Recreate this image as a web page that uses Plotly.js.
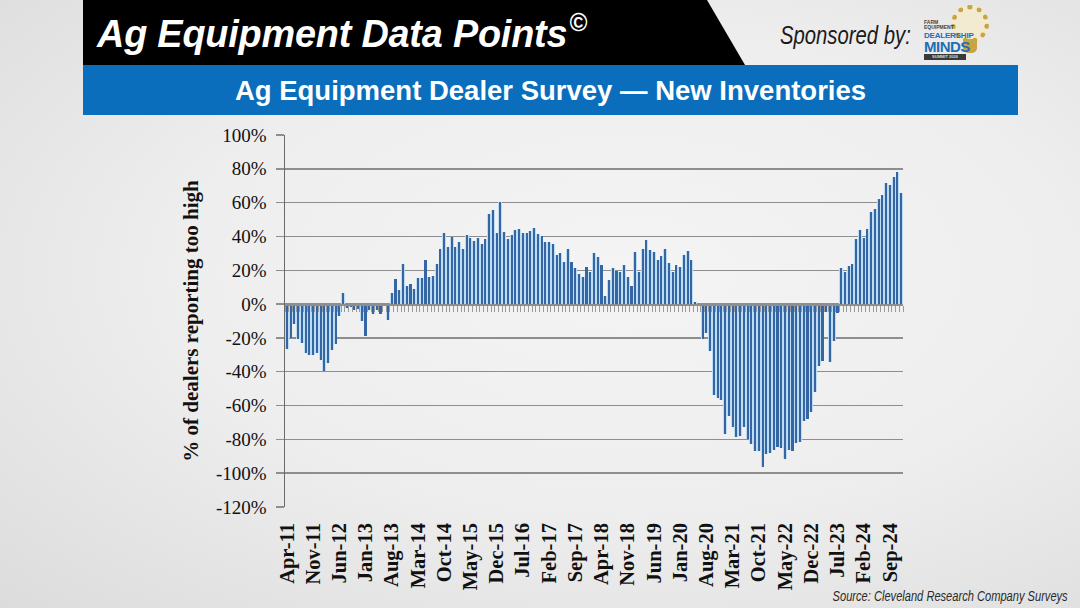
<!DOCTYPE html>
<html>
<head>
<meta charset="utf-8">
<script src="https://cdn.plot.ly/plotly-3.0.1.min.js"></script>
<style>
  html, body { margin: 0; padding: 0; }
  body {
    width: 1080px; height: 608px; overflow: hidden; position: relative;
    background: radial-gradient(ellipse at 58% 45%, #f4f4f4 0%, #eeeeee 50%, #dcdcdc 100%);
    font-family: "Liberation Sans", Arial, sans-serif;
  }
  #chart { position: absolute; left: 0; top: 0; width: 1080px; height: 608px; }
  .hdr-black {
    position: absolute; left: 83px; top: 0; width: 662px; height: 65px; background: #000;
    clip-path: polygon(0 0, 624px 0, 662px 65px, 0 65px);
  }
  .hdr-title {
    position: absolute; left: 97px; top: 10px; color: #fff; font-weight: bold; font-style: italic;
    font-size: 39px; white-space: nowrap; letter-spacing: -0.2px;
    transform: scaleX(0.97); transform-origin: left top;
  }
  .hdr-title sup { font-size: 25px; position: relative; top: -2px; margin-left: 2px; }
  .band {
    position: absolute; left: 83px; top: 65px; width: 935px; height: 50px; background: #0a6ebd;
    color: #fff; font-weight: bold; font-size: 27.5px; text-align: center; line-height: 51px; white-space: nowrap;
  }
  .sponsor {
    position: absolute; left: 780px; top: 20px; font-style: italic; font-size: 26px; color: #1a1a1a;
    transform: scaleX(0.78); transform-origin: left top; white-space: nowrap;
  }
  .logo { position: absolute; left: 921px; top: 3px; width: 72px; height: 58px; }
  .logo .gear {
    position: absolute; left: 30px; top: 2px; width: 38px; height: 38px; border-radius: 50%;
    border: 5px dotted #c9a445; box-sizing: border-box; background: #f3ead2;
  }
  .logo .bulb {
    position: absolute; left: 42px; top: 36px; width: 14px; height: 14px; border-radius: 0 0 5px 5px; background: #c9a445;
  }
  .logo .small { position: absolute; left: 3px; top: 17px; font-size: 5px; color: #444; font-weight: bold; line-height: 5px; }
  .logo .d1 { position: absolute; left: 3px; top: 28px; font-size: 8px; font-weight: bold; color: #1c6fb6; letter-spacing: -0.2px; }
  .logo .d2 { position: absolute; left: 3px; top: 35px; font-size: 15px; font-weight: bold; color: #1c6fb6; letter-spacing: -0.5px; }
  .logo .d3 {
    position: absolute; left: 3px; top: 51px; width: 42px; height: 6px; background: #3a3a3a; color: #ddd;
    font-size: 4px; line-height: 6px; text-align: center; font-weight: bold;
  }
  .source {
    position: absolute; right: 12px; top: 587px; font-style: italic; font-size: 15px; color: #2a2a2a;
    transform: scaleX(0.74); transform-origin: right top; white-space: nowrap;
  }
</style>
</head>
<body>
<div id="chart"></div>
<div class="hdr-black"></div>
<div class="hdr-title">Ag Equipment Data Points<sup>©</sup></div>
<div class="sponsor">Sponsored by:</div>
<div class="logo">
  <div class="gear"></div>
  <div class="bulb"></div>
  <div class="small">FARM<br>EQUIPMENT</div>
  <div class="d1">DEALERSHIP</div>
  <div class="d2">MINDS</div>
  <div class="d3">SUMMIT 2026</div>
</div>
<div class="band">Ag Equipment Dealer Survey — New Inventories</div>
<div class="source">Source: Cleveland Research Company Surveys</div>

<script>
// Monthly survey months, Apr-2011 through Dec-2024
const monthNames = ['Jan','Feb','Mar','Apr','May','Jun','Jul','Aug','Sep','Oct','Nov','Dec'];
const startYear = 2011, startMonth = 3, monthCount = 165;
const months = [];
for (let k = 0; k < monthCount; k++) {
  const m = (startMonth + k) % 12;
  const y = startYear + Math.floor((startMonth + k) / 12);
  months.push(monthNames[m] + '-' + String(y).slice(2));
}

// % of dealers reporting new inventories too high (net share)
const tooHighPct = [
  -26.5, -20, -12, -20.5, -23, -29, -30, -30, -29, -33,
  -39.5, -35, -27, -23.5, -7, 6.7, -2.4, -1.6, -3.7, -3,
  -10, -19, -3.4, -6, -3.6, -5.7, -1, -9.3, 6.8, 14.7,
  8.4, 23.8, 10.7, 12.1, 9.2, 15.5, 15.3, 25.8, 15.9, 16.6,
  23.8, 32.6, 42, 34, 39.7, 33.6, 36.7, 32.8, 40.8, 39.2,
  37.4, 39, 35.6, 38.5, 53, 55.4, 42, 60.3, 42.5, 38.7,
  41, 44, 44.3, 42, 42.3, 43.1, 44.8, 41.6, 40.3, 36.9,
  36.7, 35.4, 29.2, 30, 25.1, 32.3, 25, 21.2, 17.9, 15.9,
  21.9, 19.1, 30, 28, 23, 4.5, 14.4, 21.2, 19.8, 18.8,
  23.1, 15.8, 10.7, 30.8, 19.2, 32.3, 37.8, 31.9, 30.8, 26.2,
  28.6, 32.6, 24.5, 19.1, 22.9, 21.7, 28.9, 31.4, 26.2, 1.5,
  -0.7, -20.5, -17, -27.7, -53.8, -55.4, -57, -76.7, -65.9, -72.4,
  -78.6, -77.9, -72.4, -80, -82.6, -87, -87, -96.5, -88.4, -87.8,
  -86.4, -84.8, -85.4, -91.5, -86, -86.8, -82.2, -81.7, -68.9, -68,
  -64, -51.7, -36.9, -33.6, -4.5, -34, -21.7, -5, 21.3, 19.1,
  22.5, 23.9, 38.7, 44, 39, 44.2, 54.2, 56.4, 62.1, 64.5,
  71.6, 70.4, 75, 78.3, 65.5
];

// Every seventh month is labelled on the category axis
const xTickLabels = ['Apr-11','Nov-11','Jun-12','Jan-13','Aug-13','Mar-14','Oct-14','May-15',
  'Dec-15','Jul-16','Feb-17','Sep-17','Apr-18','Nov-18','Jun-19','Jan-20','Aug-20','Mar-21',
  'Oct-21','May-22','Dec-22','Jul-23','Feb-24','Sep-24'];

const yTickValues = [-120, -100, -80, -60, -40, -20, 0, 20, 40, 60, 80, 100];
const yTickLabels = yTickValues.map(v => (v < 0 ? '-' + Math.abs(v) : String(v)) + '%');

const serif = '"Liberation Serif", "Times New Roman", serif';
const gridGray = '#8e8e8e';

const traces = [
  { // soft halo behind each column
    type: 'bar', x: months, y: tooHighPct, width: 1.0,
    marker: { color: '#bcdcf2', line: { width: 0 } },
    hoverinfo: 'skip', showlegend: false
  },
  { // main columns
    type: 'bar', x: months, y: tooHighPct, width: 0.56,
    marker: { color: '#3566a3', line: { width: 0 } },
    showlegend: false
  },
  { // anchors the zero-line axis
    type: 'scatter', mode: 'markers', x: [0], y: [0], xaxis: 'x2',
    marker: { opacity: 0, size: 1 }, hoverinfo: 'skip', showlegend: false
  }
];

const layout = {
  width: 1080, height: 608,
  margin: { l: 285, r: 177, t: 135, b: 101, pad: 0 },
  paper_bgcolor: 'rgba(0,0,0,0)',
  plot_bgcolor: 'rgba(0,0,0,0)',
  barmode: 'overlay',
  bargap: 0,
  showlegend: false,
  xaxis: {
    type: 'category',
    categoryorder: 'array', categoryarray: months,
    range: [-0.5, monthCount - 0.5],
    tickmode: 'array', tickvals: xTickLabels, ticktext: xTickLabels,
    tickangle: -90,
    tickfont: { family: serif, size: 20.5, color: '#111', weight: 'bold' },
    ticks: '', showgrid: false, zeroline: false, showline: false,
    ticklabelstandoff: 11,
    fixedrange: true
  },
  xaxis2: {
    overlaying: 'x', anchor: 'free', position: 120 / 220, side: 'bottom',
    type: 'linear', range: [-0.5, monthCount - 0.5],
    tick0: -0.5, dtick: 1, ticks: 'outside', ticklen: 6, tickwidth: 1, tickcolor: '#9a9a9a',
    showticklabels: false, showgrid: false, zeroline: false,
    showline: true, linecolor: gridGray, linewidth: 1.5,
    fixedrange: true
  },
  yaxis: {
    range: [-120, 100],
    tickmode: 'array', tickvals: yTickValues, ticktext: yTickLabels,
    tickfont: { family: serif, size: 19, color: '#111' },
    showgrid: true, gridcolor: gridGray, gridwidth: 1.5,
    zeroline: false,
    showline: true, linecolor: '#6a6a6a', linewidth: 1.5,
    ticks: 'outside', ticklen: 8, tickwidth: 1.5, tickcolor: gridGray,
    ticklabelstandoff: 5,
    title: {
      text: '% of dealers reporting too high',
      font: { family: serif, size: 21, color: '#111', weight: 'bold' },
      standoff: 11
    },
    fixedrange: true
  }
};

Plotly.newPlot('chart', traces, layout, { displayModeBar: false, staticPlot: true });
</script>
</body>
</html>
